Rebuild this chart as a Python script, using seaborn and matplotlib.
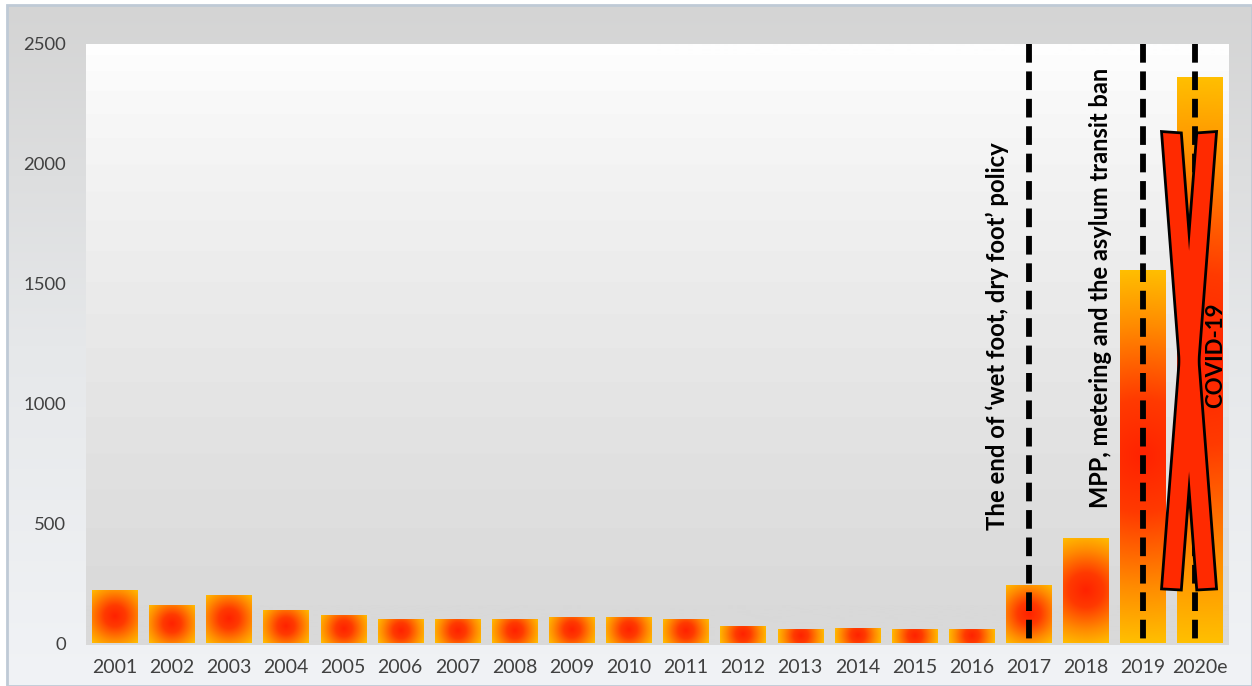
import numpy as np
import pandas as pd
import matplotlib
matplotlib.use("Agg")
import matplotlib.pyplot as plt
import seaborn as sns
from matplotlib.colors import LinearSegmentedColormap
from matplotlib.patches import Polygon, Rectangle

# ---------------- data ----------------
years = ["2001", "2002", "2003", "2004", "2005", "2006", "2007", "2008", "2009", "2010",
         "2011", "2012", "2013", "2014", "2015", "2016", "2017", "2018", "2019", "2020e"]
values = [223, 160, 202, 140, 119, 102, 102, 102, 110, 110,
          102, 73, 60, 65, 60, 60, 244, 440, 1556, 2360]
y_ticks = [0, 500, 1000, 1500, 2000, 2500]
policy_years = ["2017", "2019", "2020e"]
policy_labels = ["The end of \u2018wet foot, dry foot\u2019 policy",
                 "MPP, metering and the asylum transit ban",
                 "COVID-19"]

sns.set_theme(style="white")
plt.rcParams['font.family'] = ['Lato', 'DejaVu Sans']

W, H = 1252, 686
fig = plt.figure(figsize=(W / 100, H / 100), dpi=100)
fig.patch.set_facecolor('white')

# chart-area background
bg = fig.add_axes([7 / W, 0, 1 - 7 / W, 1 - 5 / H], zorder=-2)
grad = np.linspace(0, 1, 256)[:, None]
cmap_bg = LinearSegmentedColormap.from_list('bg', ['#d4d4d4', '#e6e8ea', '#f1f3f6'])
bg.imshow(grad, aspect='auto', cmap=cmap_bg, extent=[0, 1, 0, 1])
bg.set_xlim(0, 1); bg.set_ylim(0, 1)
bg.set_axis_off()
bg.add_patch(Rectangle((0, 0), 1, 1, transform=bg.transAxes, fill=False,
                       edgecolor='#bfcad6', lw=2, clip_on=False))

# main plot area
ax = fig.add_axes([86 / W, 1 - 645 / H, (1228.6 - 86) / W, (645 - 43.5) / H])
ax.set_facecolor('none')
df = pd.DataFrame({'year': years, 'value': values})
sns.barplot(data=df, x='year', y='value', order=years, width=0.79,
            color='#ff6000', ax=ax, zorder=2)
xlim = (-0.5, len(years) - 0.5)
ylim = (-6.25, 2500)
ax.set_xlim(*xlim)
ax.set_ylim(*ylim)

# plot area gradient (lightly banded)
tt = np.linspace(0, 1, 600) ** 0.75
bands = np.floor(tt * 20) / 20
cmap_pa = LinearSegmentedColormap.from_list('pa', ['#fefefe', '#d9d9d9'])
ax.imshow(bands[:, None], aspect='auto', cmap=cmap_pa, extent=[0, 1, 0, 1],
          transform=ax.transAxes, zorder=0, vmin=0, vmax=0.95)
ax.set_xlim(*xlim)
ax.set_ylim(*ylim)

# gradient fill of bars
cmap_bar = LinearSegmentedColormap.from_list(
    'bar', [(0, '#ff2200'), (0.3, '#ff3a00'), (0.7, '#ff8c00'), (1, '#ffc000')])
for p in list(ax.patches):
    x0, y0 = p.get_x(), p.get_y()
    w, h = p.get_width(), p.get_height()
    (px0, py0) = ax.transData.transform((x0, y0))
    (px1, py1) = ax.transData.transform((x0 + w, y0 + h))
    wp, hp = abs(px1 - px0), abs(py1 - py0)
    nx, ny = max(int(wp), 2), max(int(hp), 2)
    xs = (np.arange(nx) + 0.5) * wp / nx - wp / 2
    ys = (np.arange(ny) + 0.5) * hp / ny - hp / 2
    X, Y = np.meshgrid(xs, ys)
    R = 0.5 * np.hypot(wp, hp)
    t = np.clip(np.hypot(X, Y) / R, 0, 1)
    im = ax.imshow(t, cmap=cmap_bar, vmin=0, vmax=1, extent=[x0, x0 + w, y0, y0 + h],
                   aspect='auto', zorder=2, interpolation='bilinear')
    im.set_clip_path(p)
    p.set_facecolor('none')
    p.set_edgecolor('none')
ax.set_xlim(*xlim)
ax.set_ylim(*ylim)

# dashed policy lines
line_offsets = [0.0, 0.0, -0.09]
for yr, off in zip(policy_years, line_offsets):
    xi = years.index(yr) + off
    ax.plot([xi, xi], [2500, 0], color='black', lw=4.2, dashes=(3.2, 1.5),
            solid_capstyle='butt', dash_capstyle='butt', zorder=3)

# red X over 2020e
ix = years.index("2020e")
shapeA = [(-0.648, 2127), (-0.350, 2122), (0.263, 233), (-0.035, 229)]
shapeB = [(-0.035, 2122), (0.263, 2127), (-0.350, 229), (-0.648, 233)]
for shp in (shapeA, shapeB):
    pts = [(ix + dx, yy) for dx, yy in shp]
    ax.add_patch(Polygon(pts, closed=True, facecolor='#ff2a00', edgecolor='black',
                         lw=4, joinstyle='miter', zorder=4))
for shp in (shapeA, shapeB):
    pts = [(ix + dx, yy) for dx, yy in shp]
    ax.add_patch(Polygon(pts, closed=True, facecolor='#ff2a00', edgecolor='none',
                         zorder=4.1))

# annotation texts
txt_pos = [(years.index("2017") - 0.554, 1281),
           (years.index("2019") - 0.74, 1481),
           (years.index("2020e") + 0.27, 1202)]
txt_sizes = [17.2, 17.0, 16.0]
for (tx, ty), lab, fs in zip(txt_pos, policy_labels, txt_sizes):
    ax.text(tx, ty, lab, rotation=90, ha='center', va='center', fontsize=fs,
            fontweight='bold', color='black', zorder=5,
            family=['Lato', 'DejaVu Sans'])

# axes styling
ax.set_yticks(y_ticks)
ax.set_yticklabels([str(v) for v in y_ticks])
ax.set_xlabel('')
ax.set_ylabel('')
for s in ax.spines.values():
    s.set_visible(False)
ax.tick_params(axis='y', length=0, pad=14.4, labelsize=13.3, labelcolor='#404040')
ax.tick_params(axis='x', length=0, pad=10, labelsize=14, labelcolor='#404040')
for lab in ax.get_xticklabels():
    lab.set_family(['Liberation Sans Narrow', 'Lato'])
for lab in ax.get_yticklabels():
    lab.set_family(['Lato', 'DejaVu Sans'])
ax.grid(False)

fig.savefig('out.png', dpi=100)
